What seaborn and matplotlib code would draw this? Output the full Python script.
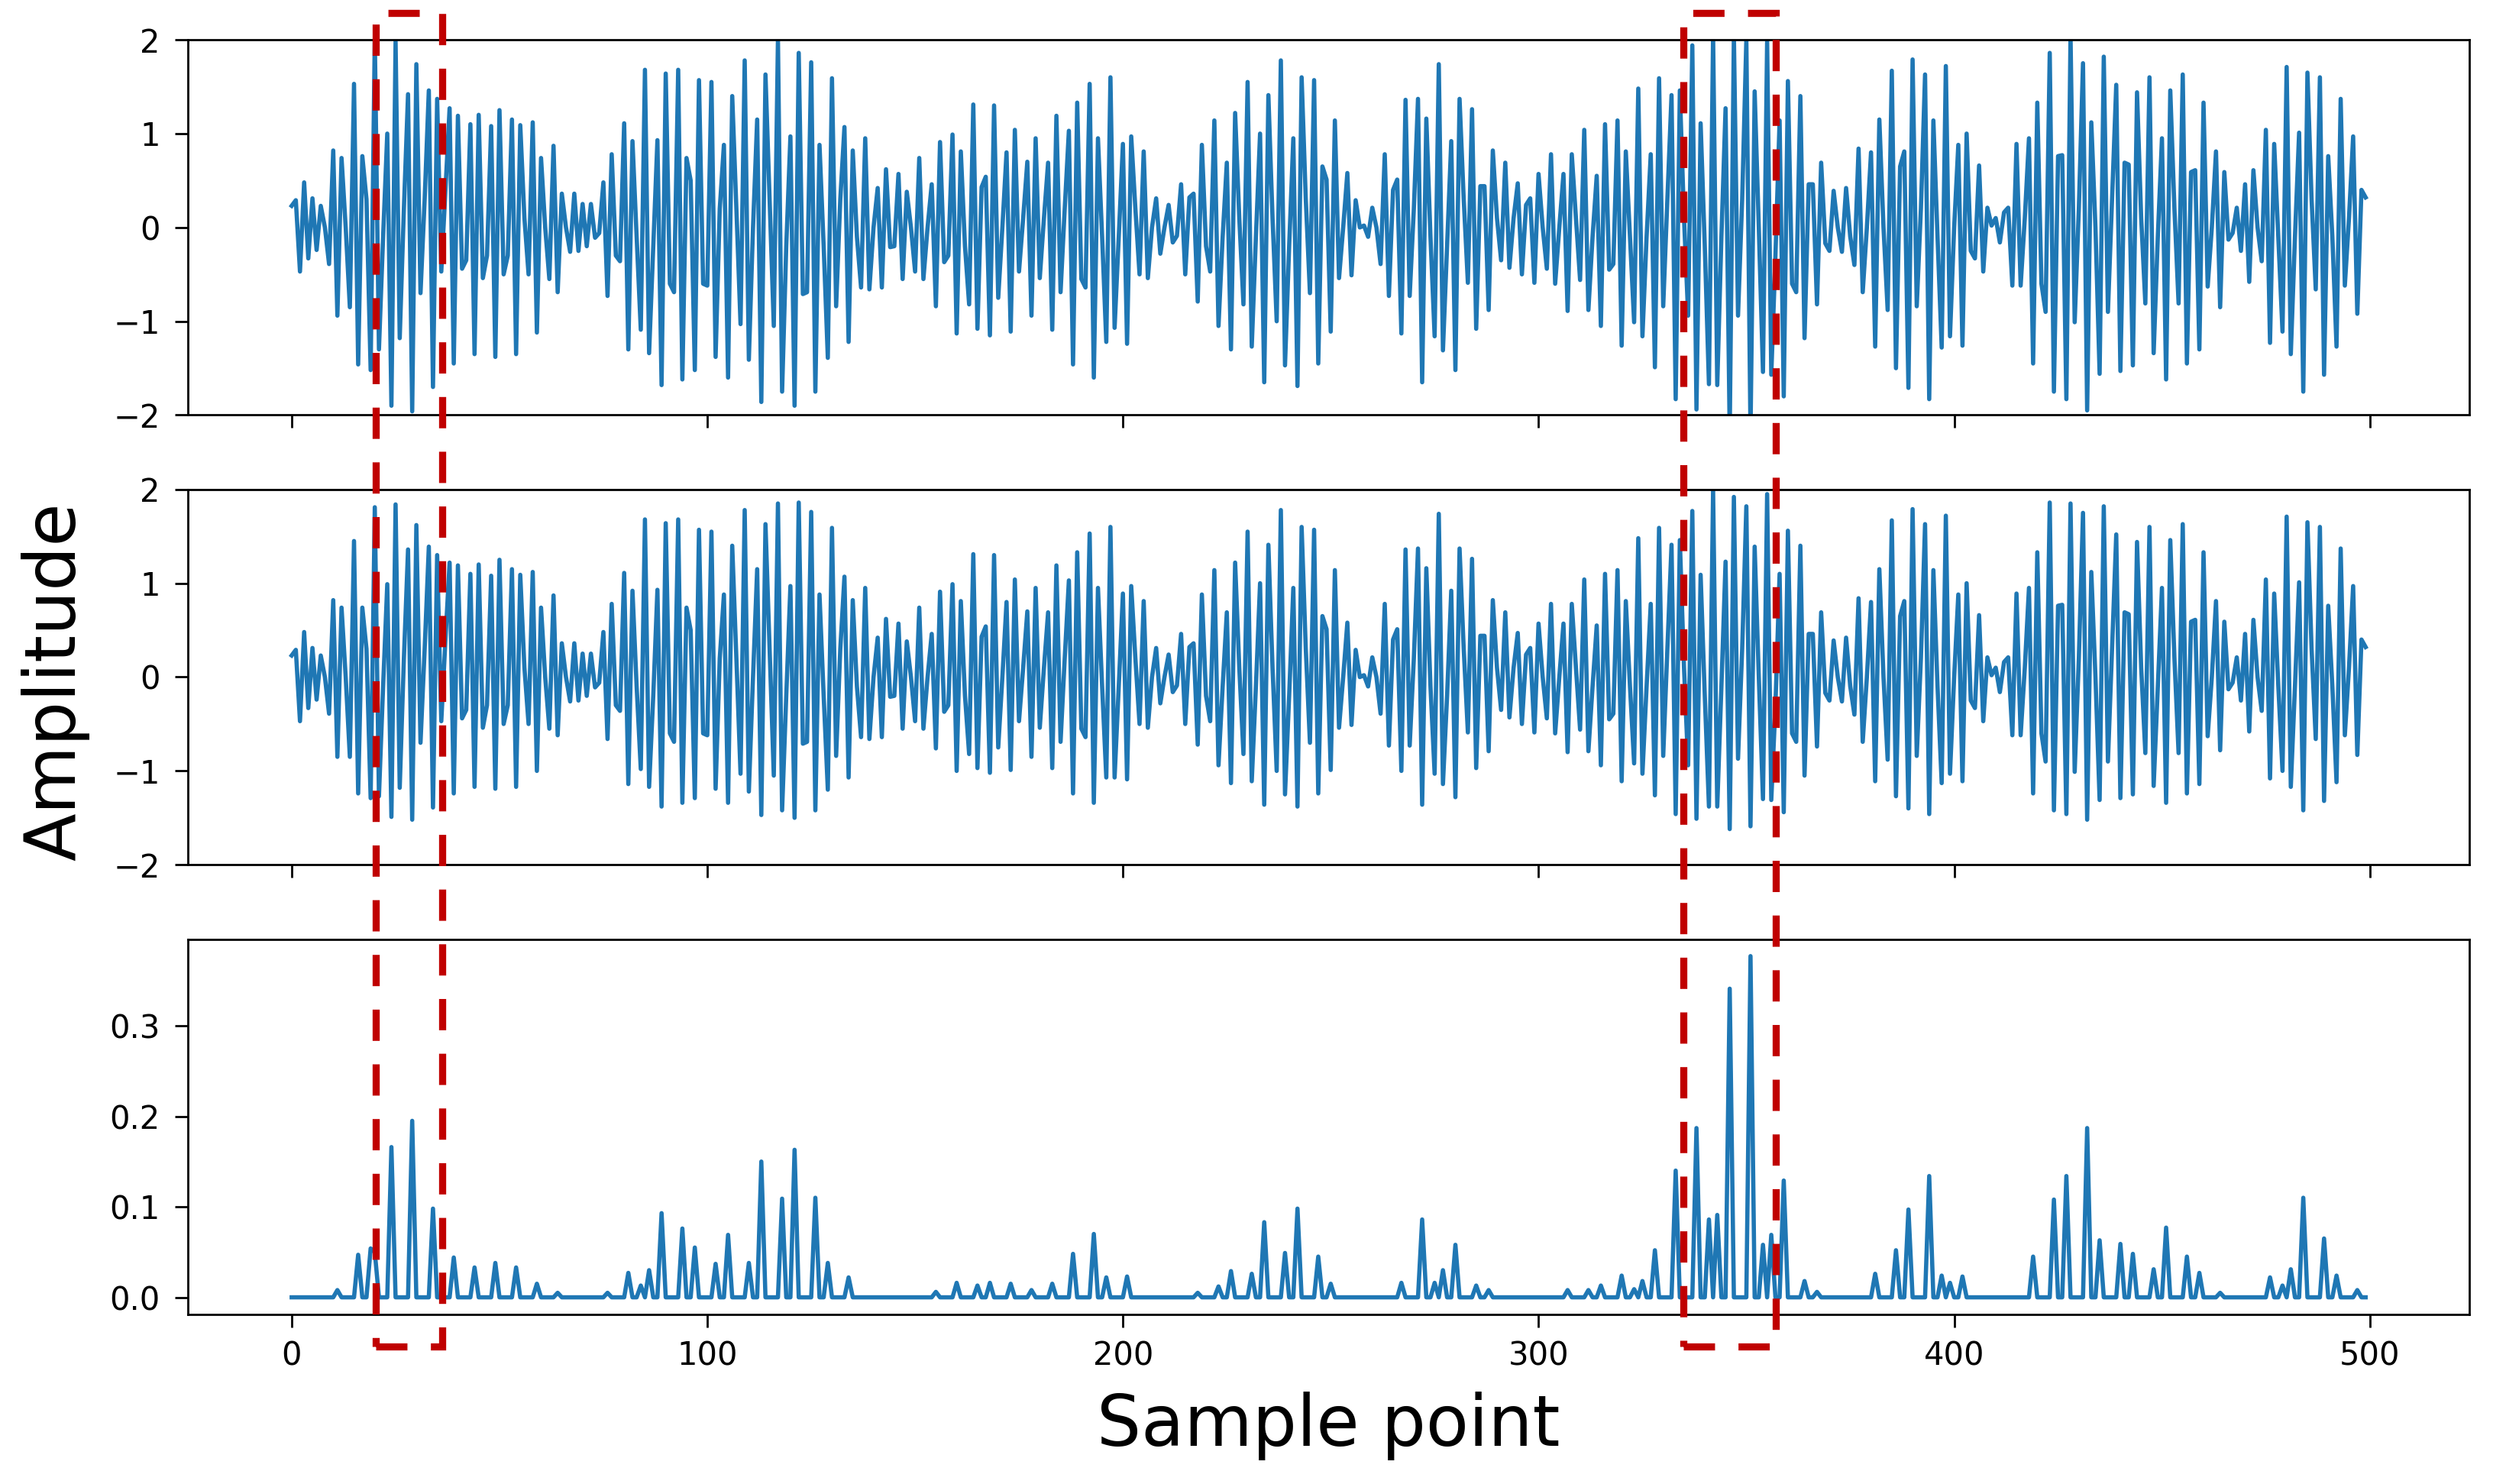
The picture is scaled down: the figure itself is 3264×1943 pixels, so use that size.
import numpy as np
import pandas as pd
import matplotlib
matplotlib.use("Agg")
import matplotlib.pyplot as plt
import seaborn as sns
from matplotlib.patches import Rectangle
from matplotlib.transforms import blended_transform_factory

# original signal (top panel)
original = [
    0.23, 0.29, -0.47, 0.48, -0.33, 0.31, -0.24, 0.23, 0.0, -0.39,
    0.82, -0.94, 0.74, 0.0, -0.85, 1.53, -1.46, 0.76, 0.3, -1.52,
    2.03, -1.3, -0.1, 1.0, -1.9, 1.98, -1.18, 0.2, 1.42, -1.96,
    1.74, -0.7, 0.3, 1.46, -1.7, 1.37, -0.47, 0.4, 1.27, -1.45,
    1.19, -0.44, -0.35, 1.1, -1.35, 1.2, -0.54, -0.3, 1.08, -1.38,
    1.25, -0.5, -0.3, 1.15, -1.35, 1.09, 0.1, -0.5, 1.12, -1.12,
    0.74, 0.0, -0.55, 0.87, -0.69, 0.36, 0.0, -0.26, 0.36, -0.25,
    0.25, -0.2, 0.25, -0.11, -0.06, 0.48, -0.73, 0.78, -0.3, -0.36,
    1.11, -1.3, 0.92, -0.1, -1.09, 1.68, -1.34, -0.2, 0.93, -1.68,
    1.64, -0.6, -0.69, 1.68, -1.62, 0.74, 0.5, -1.52, 1.57, -0.6,
    -0.62, 1.55, -1.38, 0.2, 0.88, -1.6, 1.4, 0.2, -1.03, 1.78,
    -1.41, 0.0, 1.15, -1.86, 1.63, 0.3, -1.05, 2.0, -1.75, -0.2,
    0.97, -1.9, 1.86, -0.71, -0.69, 1.76, -1.75, 0.88, -0.2, -1.39,
    1.59, -0.84, 0.3, 1.07, -1.22, 0.82, -0.1, -0.64, 0.95, -0.66,
    0.0, 0.42, -0.64, 0.62, -0.21, -0.2, 0.57, -0.55, 0.38, 0.0,
    -0.47, 0.74, -0.55, 0.0, 0.46, -0.84, 0.91, -0.37, -0.3, 0.99,
    -1.13, 0.81, -0.2, -0.82, 1.31, -1.08, 0.43, 0.54, -1.15, 1.3,
    -0.75, 0.0, 0.8, -1.11, 1.04, -0.47, 0.1, 0.7, -0.94, 0.95,
    -0.54, 0.1, 0.69, -1.09, 1.19, -0.69, 0.2, 1.03, -1.46, 1.33,
    -0.55, -0.64, 1.53, -1.6, 0.95, -0.1, -1.22, 1.6, -1.07, -0.1,
    0.89, -1.24, 0.97, 0.2, -0.5, 0.81, -0.54, 0.0, 0.31, -0.28,
    0.0, 0.24, -0.16, -0.09, 0.46, -0.5, 0.32, 0.36, -0.79, 0.88,
    -0.2, -0.47, 1.14, -1.05, -0.1, 0.69, -1.3, 1.22, 0.1, -0.82,
    1.55, -1.27, -0.1, 1.0, -1.65, 1.41, 0.1, -1.0, 1.78, -1.47,
    -0.2, 0.95, -1.69, 1.6, 0.3, -0.7, 1.57, -1.45, 0.65, 0.51,
    -1.11, 1.14, -0.54, 0.0, 0.58, -0.51, 0.29, 0.0, 0.02, -0.1,
    0.21, 0.0, -0.39, 0.78, -0.73, 0.4, 0.51, -1.13, 1.36, -0.73,
    0.2, 1.37, -1.65, 1.16, -0.1, -1.16, 1.74, -1.31, -0.2, 0.92,
    -1.52, 1.37, 0.3, -0.59, 1.26, -1.08, 0.44, 0.44, -0.88, 0.82,
    0.1, -0.35, 0.69, -0.43, 0.1, 0.47, -0.5, 0.24, 0.31, -0.59,
    0.57, 0.0, -0.44, 0.78, -0.6, 0.0, 0.57, -0.89, 0.78, 0.1,
    -0.56, 1.04, -0.88, -0.1, 0.55, -1.05, 1.1, -0.45, -0.39, 1.14,
    -1.26, 0.81, -0.1, -1.01, 1.48, -1.16, -0.1, 0.78, -1.49, 1.59,
    -0.84, 0.3, 1.41, -1.83, 1.46, 0.1, -0.94, 1.94, -1.94, 1.11,
    -0.2, -1.67, 2.05, -1.68, -0.1, 1.27, -2.2, 2.05, -0.94, 0.3,
    2.0, -2.2, 1.45, 0.0, -1.54, 1.98, -1.57, -0.3, 1.14, -1.8,
    1.56, -0.6, -0.69, 1.4, -1.18, 0.46, 0.46, -0.82, 0.69, -0.17,
    -0.25, 0.39, 0.0, -0.26, 0.42, -0.1, -0.4, 0.84, -0.69, 0.0,
    0.8, -1.27, 1.15, 0.0, -0.88, 1.67, -1.5, 0.65, 0.81, -1.71,
    1.79, -0.84, 0.2, 1.63, -1.83, 1.14, -0.1, -1.28, 1.72, -1.16,
    0.0, 0.88, -1.26, 1.0, -0.25, -0.33, 0.66, -0.47, 0.21, 0.02,
    0.1, -0.16, 0.16, 0.21, -0.62, 0.89, -0.62, 0.1, 0.95, -1.45,
    1.33, -0.6, -0.9, 1.86, -1.75, 0.76, 0.77, -1.83, 2.05, -1.01,
    0.2, 1.75, -1.95, 1.12, 0.0, -1.56, 1.82, -0.9, 0.3, 1.52,
    -1.53, 0.69, 0.67, -1.47, 1.44, 0.1, -0.81, 1.6, -1.34, -0.1,
    0.95, -1.62, 1.46, 0.2, -0.81, 1.63, -1.45, 0.59, 0.61, -1.3,
    1.33, -0.63, 0.0, 0.81, -0.85, 0.59, -0.13, -0.06, 0.21, -0.25,
    0.46, -0.58, 0.61, 0.0, -0.36, 1.04, -1.23, 0.89, -0.1, -1.11,
    1.71, -1.35, -0.1, 1.01, -1.75, 1.65, 0.3, -0.66, 1.6, -1.57,
    0.76, -0.1, -1.27, 1.37, -0.62, 0.1, 0.97, -0.92, 0.4, 0.32,
]

# reconstructed signal (middle panel)
reconstructed = [
    0.23, 0.29, -0.47, 0.48, -0.33, 0.31, -0.24, 0.23, 0.0, -0.39,
    0.82, -0.85, 0.74, 0.0, -0.85, 1.45, -1.24, 0.74, 0.3, -1.29,
    1.81, -1.27, -0.1, 0.99, -1.49, 1.84, -1.18, 0.2, 1.36, -1.52,
    1.62, -0.7, 0.3, 1.39, -1.39, 1.30, -0.47, 0.4, 1.22, -1.24,
    1.19, -0.44, -0.35, 1.1, -1.17, 1.2, -0.54, -0.3, 1.08, -1.19,
    1.25, -0.5, -0.3, 1.15, -1.17, 1.09, 0.1, -0.5, 1.12, -1.0,
    0.74, 0.0, -0.55, 0.87, -0.62, 0.36, 0.0, -0.26, 0.36, -0.25,
    0.25, -0.2, 0.25, -0.11, -0.06, 0.48, -0.66, 0.78, -0.3, -0.36,
    1.11, -1.14, 0.92, -0.1, -0.98, 1.68, -1.17, -0.2, 0.93, -1.38,
    1.64, -0.6, -0.69, 1.68, -1.34, 0.74, 0.5, -1.29, 1.57, -0.6,
    -0.62, 1.55, -1.19, 0.2, 0.88, -1.34, 1.4, 0.2, -1.03, 1.78,
    -1.22, 0.0, 1.15, -1.47, 1.63, 0.3, -1.05, 1.85, -1.42, -0.2,
    0.97, -1.5, 1.86, -0.71, -0.69, 1.76, -1.42, 0.88, -0.2, -1.2,
    1.59, -0.84, 0.3, 1.07, -1.07, 0.82, -0.1, -0.64, 0.95, -0.66,
    0.0, 0.42, -0.64, 0.62, -0.21, -0.2, 0.57, -0.55, 0.38, 0.0,
    -0.47, 0.74, -0.55, 0.0, 0.46, -0.76, 0.91, -0.37, -0.3, 0.99,
    -1.0, 0.81, -0.2, -0.82, 1.31, -0.97, 0.43, 0.54, -1.02, 1.3,
    -0.75, 0.0, 0.8, -0.99, 1.04, -0.47, 0.1, 0.7, -0.85, 0.95,
    -0.54, 0.1, 0.69, -0.97, 1.19, -0.69, 0.2, 1.03, -1.24, 1.33,
    -0.55, -0.64, 1.53, -1.34, 0.95, -0.1, -1.07, 1.6, -1.07, -0.1,
    0.89, -1.09, 0.97, 0.2, -0.5, 0.81, -0.54, 0.0, 0.31, -0.28,
    0.0, 0.24, -0.16, -0.09, 0.46, -0.5, 0.32, 0.36, -0.72, 0.88,
    -0.2, -0.47, 1.14, -0.94, -0.1, 0.69, -1.13, 1.22, 0.1, -0.82,
    1.55, -1.11, -0.1, 1.0, -1.36, 1.41, 0.1, -1.0, 1.78, -1.25,
    -0.2, 0.95, -1.38, 1.6, 0.3, -0.7, 1.57, -1.24, 0.65, 0.51,
    -0.99, 1.14, -0.54, 0.0, 0.58, -0.51, 0.29, 0.0, 0.02, -0.1,
    0.21, 0.0, -0.39, 0.78, -0.73, 0.4, 0.51, -1.0, 1.36, -0.73,
    0.2, 1.37, -1.36, 1.16, -0.1, -1.03, 1.74, -1.14, -0.2, 0.92,
    -1.28, 1.37, 0.3, -0.59, 1.26, -0.97, 0.44, 0.44, -0.79, 0.82,
    0.1, -0.35, 0.69, -0.43, 0.1, 0.47, -0.5, 0.24, 0.31, -0.59,
    0.57, 0.0, -0.44, 0.78, -0.6, 0.0, 0.57, -0.8, 0.78, 0.1,
    -0.56, 1.04, -0.79, -0.1, 0.55, -0.94, 1.1, -0.45, -0.39, 1.14,
    -1.11, 0.81, -0.1, -0.92, 1.48, -1.03, -0.1, 0.78, -1.26, 1.59,
    -0.84, 0.3, 1.41, -1.46, 1.46, 0.1, -0.94, 1.77, -1.51, 1.09,
    -0.2, -1.38, 1.99, -1.38, -0.1, 1.23, -1.62, 1.92, -0.87, 0.3,
    1.82, -1.59, 1.39, 0.0, -1.3, 1.95, -1.31, -0.3, 1.1, -1.44,
    1.56, -0.6, -0.69, 1.4, -1.05, 0.46, 0.46, -0.74, 0.69, -0.17,
    -0.25, 0.39, 0.0, -0.26, 0.42, -0.1, -0.4, 0.84, -0.69, 0.0,
    0.8, -1.11, 1.15, 0.0, -0.88, 1.67, -1.27, 0.65, 0.81, -1.4,
    1.79, -0.84, 0.2, 1.63, -1.46, 1.14, -0.1, -1.13, 1.72, -1.03,
    0.0, 0.88, -1.11, 1.0, -0.25, -0.33, 0.66, -0.47, 0.21, 0.02,
    0.1, -0.16, 0.16, 0.21, -0.62, 0.89, -0.62, 0.1, 0.95, -1.24,
    1.33, -0.6, -0.9, 1.86, -1.42, 0.76, 0.77, -1.46, 1.85, -1.01,
    0.2, 1.75, -1.52, 1.12, 0.0, -1.31, 1.82, -0.9, 0.3, 1.52,
    -1.29, 0.69, 0.67, -1.25, 1.44, 0.1, -0.81, 1.6, -1.16, -0.1,
    0.95, -1.34, 1.46, 0.2, -0.81, 1.63, -1.24, 0.59, 0.61, -1.14,
    1.33, -0.63, 0.0, 0.81, -0.78, 0.59, -0.13, -0.06, 0.21, -0.25,
    0.46, -0.58, 0.61, 0.0, -0.36, 1.04, -1.08, 0.89, -0.1, -1.0,
    1.71, -1.17, -0.1, 1.01, -1.42, 1.65, 0.3, -0.66, 1.6, -1.32,
    0.76, -0.1, -1.12, 1.37, -0.62, 0.1, 0.97, -0.83, 0.4, 0.32,
]

# error panel: spikes (sample index, value); every other sample sits at 0
err_idx = [11, 16, 19, 20, 24, 29, 34, 39, 44, 49, 54, 59, 64, 76,
           81, 84, 86, 89, 94, 97, 102, 105, 110, 113, 118, 121, 126, 129, 134,
           155, 160, 165, 168, 173, 178, 183, 188, 193, 196, 201,
           218, 223, 226, 231, 234, 239, 242, 247, 250,
           267, 272, 275, 277, 280, 285, 288,
           307, 312, 315, 320, 323, 325, 328, 333, 338, 341, 343, 346, 351,
           354, 356, 359, 364, 367,
           381, 386, 389, 394, 397, 399, 402,
           419, 424, 427, 432, 435, 440, 443, 448, 451, 456, 459, 464,
           476, 479, 481, 484, 489, 492, 497]
err_val = [0.008, 0.047, 0.054, 0.05, 0.166, 0.195, 0.098, 0.044, 0.033, 0.038, 0.033, 0.015, 0.005, 0.005,
           0.027, 0.013, 0.03, 0.093, 0.076, 0.055, 0.037, 0.069, 0.038, 0.15, 0.109, 0.163, 0.11, 0.038, 0.022,
           0.006, 0.016, 0.013, 0.016, 0.015, 0.008, 0.015, 0.048, 0.07, 0.022, 0.023,
           0.005, 0.012, 0.029, 0.026, 0.083, 0.049, 0.098, 0.045, 0.015,
           0.016, 0.086, 0.016, 0.03, 0.058, 0.013, 0.008,
           0.008, 0.008, 0.013, 0.024, 0.009, 0.018, 0.052, 0.14, 0.187, 0.086, 0.091, 0.341, 0.377,
           0.058, 0.069, 0.129, 0.018, 0.006,
           0.026, 0.052, 0.097, 0.134, 0.024, 0.016, 0.023,
           0.045, 0.108, 0.134, 0.187, 0.063, 0.059, 0.048, 0.031, 0.077, 0.045, 0.027, 0.005,
           0.022, 0.013, 0.031, 0.11, 0.065, 0.024, 0.008]

# highlighted windows (sample ranges)
box_ranges = [(20.3, 36.3), (334.8, 357.1)]

sample = np.arange(len(original))
error = np.zeros(len(original))
error[err_idx] = err_val

df = pd.DataFrame({"sample": sample, "original": original,
                   "reconstructed": reconstructed, "error": error})

plt.rcParams['font.family'] = ['DejaVu Sans']
plt.rcParams['axes.linewidth'] = 1.0

fig, axes = plt.subplots(3, 1, figsize=(16.32, 9.715), dpi=200, sharex=True)
fig.subplots_adjust(left=0.0754, right=0.9905, bottom=0.1143, top=0.9732, hspace=0.198)

for ax, col in zip(axes, ["original", "reconstructed", "error"]):
    sns.lineplot(data=df, x="sample", y=col, ax=ax, color="#1f77b4", linewidth=2.0)
    ax.set_xlabel("")
    ax.set_ylabel("")
    ax.tick_params(axis="both", labelsize=15, length=6.2, width=1.0)
    ax.tick_params(axis="x", pad=6)
    ax.tick_params(axis="y", pad=7)

for ax in axes[:2]:
    ax.set_ylim(-2, 2)
    ax.set_yticks([-2, -1, 0, 1, 2])

axes[2].set_xticks([0, 100, 200, 300, 400, 500])

fig.text(0.022, 0.541, "Amplitude", rotation=90, ha="center", va="center", fontsize=33)
fig.text(0.5328, 0.0257, "Sample point", ha="center", va="baseline", fontsize=33)

trans = blended_transform_factory(axes[2].transData, fig.transFigure)
for x0, x1 in box_ranges:
    rect = Rectangle((x0, 0.0926), x1 - x0, 0.8987, transform=trans, fill=False,
                     edgecolor="#C00000", linewidth=3.35, linestyle=(0, (4.4, 3.3)),
                     clip_on=False, zorder=10)
    fig.add_artist(rect)

fig.savefig("out.png", dpi=200)
